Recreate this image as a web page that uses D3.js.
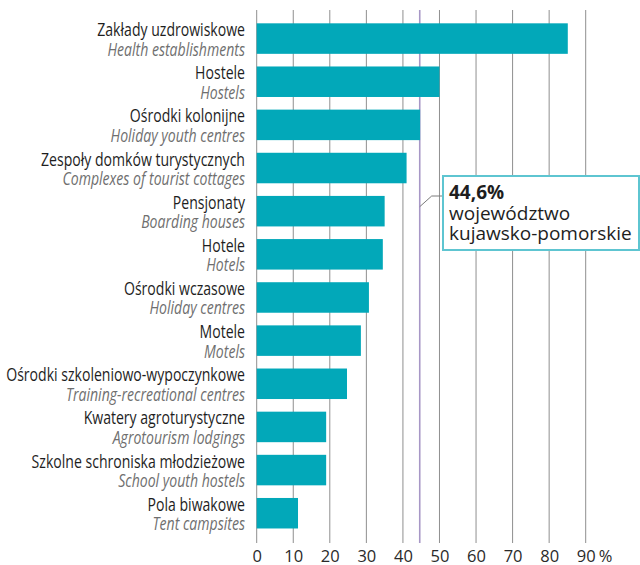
<!DOCTYPE html>
<html>
<head>
<meta charset="utf-8">
<script src="https://cdn.jsdelivr.net/npm/d3@7"></script>
<style>
  body { margin: 0; background: #fff; }
  svg { display: block; }
</style>
</head>
<body>
<svg id="chart" width="640" height="565"></svg>
<script>
// chart data
var labelsPl = ["Zakłady uzdrowiskowe", "Hostele", "Ośrodki kolonijne", "Zespoły domków turystycznych",
  "Pensjonaty", "Hotele", "Ośrodki wczasowe", "Motele", "Ośrodki szkoleniowo-wypoczynkowe",
  "Kwatery agroturystyczne", "Szkolne schroniska młodzieżowe", "Pola biwakowe"];
var labelsEn = ["Health establishments", "Hostels", "Holiday youth centres", "Complexes of tourist cottages",
  "Boarding houses", "Hotels", "Holiday centres", "Motels", "Training-recreational centres",
  "Agrotourism lodgings", "School youth hostels", "Tent campsites"];
var values = [85.1, 50.0, 44.7, 41.0, 35.0, 34.5, 30.7, 28.5, 24.7, 19.0, 19.0, 11.3];
var tickValues = [0, 10, 20, 30, 40, 50, 60, 70, 80, 90];
var avgValue = 44.6;
var avgLabel = ["44,6%", "województwo", "kujawsko-pomorskie"];

var svg = d3.select("#chart");

var x = d3.scaleLinear().domain([0, 90]).range([256.7, 585.7]);
var y = d3.scaleBand().domain(d3.range(values.length))
    .range([17, 534.8]).paddingInner(0.293).paddingOuter(0.1465);

var gridTop = 10, gridBottom = 543;

// vertical grid
svg.append("g").selectAll("line")
  .data(tickValues)
  .enter().append("line")
    .attr("x1", function(d) { return x(d); })
    .attr("x2", function(d) { return x(d); })
    .attr("y1", gridTop)
    .attr("y2", gridBottom)
    .attr("stroke", "#8f8f8f")
    .attr("stroke-width", 1);

// regional average line
svg.append("line")
  .attr("x1", x(avgValue)).attr("x2", x(avgValue))
  .attr("y1", gridTop).attr("y2", gridBottom)
  .attr("stroke", "#a797c6")
  .attr("stroke-width", 1.6);

// bars
svg.append("g").selectAll("rect")
  .data(values)
  .enter().append("rect")
    .attr("x", x(0))
    .attr("y", function(d, i) { return y(i); })
    .attr("width", function(d) { return x(d) - x(0); })
    .attr("height", y.bandwidth())
    .attr("fill", "#02a8b9");

// category labels
var lab = svg.append("g").attr("class", "labels");
var rows = lab.selectAll("g")
  .data(labelsPl)
  .enter().append("g")
    .attr("transform", function(d, i) { return "translate(245," + (y(i) + y.bandwidth() / 2) + ")"; });

rows.append("text")
  .attr("class", "pl")
  .attr("y", -2.5)
  .attr("text-anchor", "end")
  .style("font", "18.5px 'Open Sans', sans-serif")
  .attr("fill", "#1e1e1e")
  .text(function(d) { return d; });

rows.append("text")
  .attr("class", "en")
  .attr("y", 17)
  .attr("text-anchor", "end")
  .style("font", "italic 18.5px 'Open Sans', sans-serif")
  .attr("fill", "#6f6f6f")
  .text(function(d, i) { return labelsEn[i]; });

// squeeze labels to a condensed look: widest label spans ~239px
var widest = d3.max(rows.selectAll("text").nodes(), function(n) { return n.getComputedTextLength(); });
var sx = 239 / widest;
rows.selectAll("text").attr("transform", "scale(" + sx + ",1)");

// x axis
var axis = svg.append("g")
  .attr("transform", "translate(0," + gridBottom + ")")
  .call(d3.axisBottom(x).tickValues(tickValues).tickSize(0).tickPadding(7));
axis.select(".domain").remove();
axis.selectAll("text")
  .style("font", "16.5px 'Open Sans', sans-serif")
  .attr("fill", "#2a2a2a");

svg.append("text")
  .attr("x", x(90) + 13)
  .attr("y", 562)
  .style("font", "16.5px 'Open Sans', sans-serif")
  .attr("fill", "#2a2a2a")
  .text("%");

// callout
var bx = 443, by = 176, bw = 196, bh = 74;
svg.append("polyline")
  .attr("points", [[x(avgValue), 206.7], [431.7, 196], [bx, 196]].join(" "))
  .attr("fill", "none")
  .attr("stroke", "#7a7a7a")
  .attr("stroke-width", 1);

svg.append("rect")
  .attr("x", bx).attr("y", by).attr("width", bw).attr("height", bh)
  .attr("fill", "#fff")
  .attr("stroke", "#5ec5d1")
  .attr("stroke-width", 2);

svg.append("text")
  .attr("x", bx + 6).attr("y", 199)
  .style("font", "bold 19px 'Open Sans', sans-serif")
  .attr("fill", "#1e1e1e")
  .text(avgLabel[0]);

svg.append("text")
  .attr("x", bx + 6).attr("y", 220)
  .style("font", "19px 'Open Sans', sans-serif")
  .attr("fill", "#1e1e1e")
  .text(avgLabel[1]);

svg.append("text")
  .attr("x", bx + 6).attr("y", 240)
  .style("font", "19px 'Open Sans', sans-serif")
  .attr("fill", "#1e1e1e")
  .text(avgLabel[2]);
</script>
</body>
</html>
